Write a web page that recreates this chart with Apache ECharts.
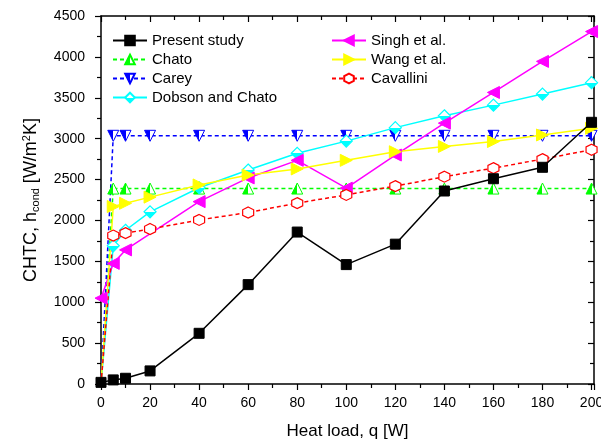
<!DOCTYPE html>
<html>
<head>
<meta charset="utf-8">
<style>
  html, body { margin: 0; padding: 0; background: #fff; }
  #chart { width: 601px; height: 441px; }
</style>
<script src="https://cdn.jsdelivr.net/npm/echarts@6/dist/echarts.min.js"></script>
</head>
<body>
<div id="chart"></div>
<script>
// Heat load steps [W]
const heatLoad = [0, 5, 10, 20, 40, 60, 80, 100, 120, 140, 160, 180, 200];

// Condensation heat transfer coefficient [W/m2K]
const presentStudy = [20, 50, 70, 160, 620, 1215, 1858, 1460, 1710, 2360, 2510, 2650, 3200];
const chato        = [0, 2390, 2390, 2390, 2390, 2390, 2390, 2390, 2390, 2390, 2390, 2390, 2390];
const carey        = [0, 3035, 3035, 3035, 3035, 3035, 3035, 3035, 3035, 3035, 3035, 3035, 3035];
const dobsonChato  = [0, 1690, 1880, 2105, 2400, 2617, 2821, 2970, 3135, 3280, 3410, 3545, 3685];
const singh        = [1050, 1475, 1640, null, 2230, 2520, 2735, 2395, 2800, 3190, 3565, 3945, 4310];
const wang         = [0, 2170, 2210, 2285, 2434, 2555, 2630, 2735, 2840, 2905, 2965, 3045, 3127];
const cavallini    = [0, 1815, 1845, 1895, 2006, 2097, 2212, 2312, 2420, 2535, 2640, 2750, 2865];

// Axis tick labels
const xTickLabels = [0, 20, 40, 60, 80, 100, 120, 140, 160, 180, 200];
const yTickLabels = [0, 500, 1000, 1500, 2000, 2500, 3000, 3500, 4000, 4500];

const FONT = 'Liberation Sans, Arial, sans-serif';

// Pair x/y values; a zero starting value is drawn as a line vertex only.
function pairs(values) {
  const out = [];
  values.forEach(function (v, i) {
    if (v === null) return;
    const item = { value: [heatLoad[i], v] };
    if (v === 0) item.symbol = 'none';
    out.push(item);
  });
  return out;
}

function halfFill(colorA, colorB, vertical) {
  return new echarts.graphic.LinearGradient(0, 0, vertical ? 0 : 1, vertical ? 1 : 0, [
    { offset: 0, color: colorA }, { offset: 0.5, color: colorA },
    { offset: 0.5, color: colorB }, { offset: 1, color: colorB }
  ]);
}

function lineSeries(name, values, color, symbol, size, dashed, extra) {
  const s = {
    name: name,
    type: 'line',
    data: pairs(values),
    connectNulls: true,
    symbol: symbol,
    symbolSize: size,
    showAllSymbol: true,
    animation: false,
    lineStyle: { color: color, width: 1.5, type: dashed ? [4, 3] : 'solid' },
    itemStyle: { color: color, borderColor: color, borderWidth: 1 },
    z: 2
  };
  return Object.assign(s, extra || {});
}

const chart = echarts.init(document.getElementById('chart'), null, { renderer: 'canvas' });

const tickLabel = { fontFamily: FONT, fontSize: 14, color: '#000' };
const axisLineStyle = { show: true, onZero: false, lineStyle: { color: '#000', width: 1.5 } };
const tickStyle = { color: '#000', width: 1.2 };

function labelFormatter(list) {
  return function (v) { return list.indexOf(v) >= 0 ? String(v) : ''; };
}

chart.setOption({
  backgroundColor: '#fff',
  animation: false,
  grid: { left: 101, right: 7, top: 16, bottom: 57, containLabel: false, outerBoundsMode: 'none' },
  legend: [
    {
      data: ['Present study', 'Chato', 'Carey', 'Dobson and Chato'],
      orient: 'vertical', left: 112, top: 33, padding: 0,
      itemWidth: 34, itemHeight: 12, itemGap: 4,
      textStyle: { fontFamily: FONT, fontSize: 15, color: '#000', lineHeight: 15 }
    },
    {
      data: ['Singh et al.', 'Wang et al.', 'Cavallini'],
      orient: 'vertical', left: 331, top: 33, padding: 0,
      itemWidth: 34, itemHeight: 12, itemGap: 4,
      textStyle: { fontFamily: FONT, fontSize: 15, color: '#000', lineHeight: 15 }
    }
  ],
  xAxis: [
    {
      type: 'value', min: 0, max: 201, interval: 20, position: 'bottom',
      name: 'Heat load, q [W]', nameLocation: 'middle', nameGap: 39,
      nameTextStyle: { fontFamily: FONT, fontSize: 17, color: '#000' },
      axisLine: axisLineStyle,
      axisTick: { show: true, inside: false, length: 6, lineStyle: tickStyle },
      minorTick: { show: true, splitNumber: 2, length: 4, lineStyle: tickStyle },
      axisLabel: Object.assign({ margin: 12, showMaxLabel: false, hideOverlap: false, formatter: labelFormatter(xTickLabels) }, tickLabel),
      splitLine: { show: false }
    },
    {
      type: 'value', min: 0, max: 201, interval: 20, position: 'top',
      axisLine: axisLineStyle,
      axisTick: { show: true, inside: true, length: 6, lineStyle: tickStyle },
      minorTick: { show: true, splitNumber: 2, length: 4, lineStyle: tickStyle },
      axisLabel: { show: false },
      splitLine: { show: false }
    }
  ],
  yAxis: [
    {
      type: 'value', min: 0, max: 4500, interval: 500, position: 'left',
      name: 'CHTC, h{sub|cond} [W/m{sup|2}K]', nameLocation: 'middle', nameGap: 60,
      nameTextStyle: {
        fontFamily: FONT, fontSize: 18, color: '#000',
        rich: {
          sub: { fontFamily: FONT, fontSize: 11, color: '#000', padding: [9, 0, 0, 0] },
          sup: { fontFamily: FONT, fontSize: 11, color: '#000', padding: [0, 0, 9, 0] }
        }
      },
      axisLine: axisLineStyle,
      axisTick: { show: true, inside: false, length: 6, lineStyle: tickStyle },
      minorTick: { show: true, splitNumber: 2, length: 4, lineStyle: tickStyle },
      axisLabel: Object.assign({ margin: 16, formatter: labelFormatter(yTickLabels) }, tickLabel),
      splitLine: { show: false }
    },
    {
      type: 'value', min: 0, max: 4500, interval: 500, position: 'right',
      axisLine: axisLineStyle,
      axisTick: { show: true, inside: true, length: 6, lineStyle: tickStyle },
      minorTick: { show: true, splitNumber: 2, length: 4, lineStyle: tickStyle },
      axisLabel: { show: false },
      splitLine: { show: false }
    }
  ],
  series: [
    lineSeries('Present study', presentStudy, '#000000', 'rect', 10, false, { z: 4 }),
    lineSeries('Chato', chato, '#00ff00', 'triangle', 11, true, {
      itemStyle: { color: halfFill('#00ff00', '#ffffff', false), borderColor: '#00ff00', borderWidth: 1 }
    }),
    lineSeries('Carey', carey, '#0000ff', 'triangle', 11, true, {
      symbolRotate: 180,
      itemStyle: { color: halfFill('#ffffff', '#0000ff', false), borderColor: '#0000ff', borderWidth: 1 }
    }),
    lineSeries('Dobson and Chato', dobsonChato, '#00ffff', 'diamond', 12, false, {
      itemStyle: { color: halfFill('#ffffff', '#00ffff', true), borderColor: '#00ffff', borderWidth: 1.2 }
    }),
    lineSeries('Singh et al.', singh, '#ff00ff', 'triangle', 12, false, { symbolRotate: 90 }),
    lineSeries('Wang et al.', wang, '#ffff00', 'triangle', 12, false, { symbolRotate: -90 }),
    lineSeries('Cavallini', cavallini, '#ff0000', 'path://M0,-10 L8.66,-5 L8.66,5 L0,10 L-8.66,5 L-8.66,-5 Z', 11, true, {
      itemStyle: { color: '#ffffff', borderColor: '#ff0000', borderWidth: 1.2 }
    })
  ]
});
</script>
</body>
</html>
